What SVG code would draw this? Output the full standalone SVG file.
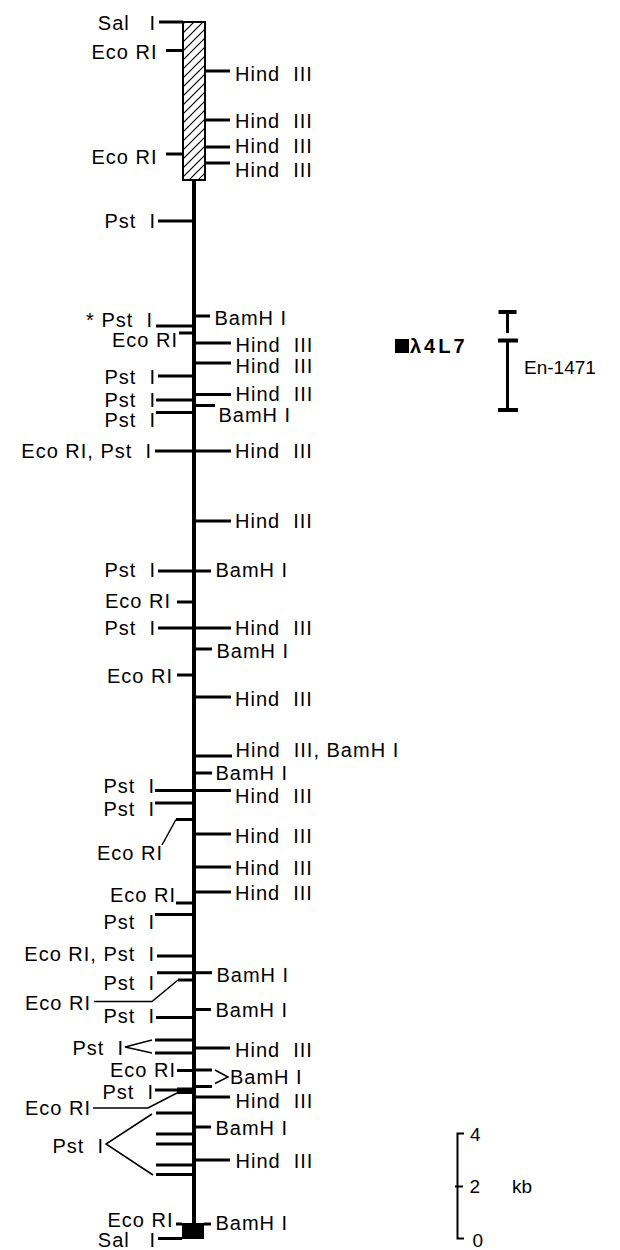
<svg xmlns="http://www.w3.org/2000/svg" width="620" height="1250" viewBox="0 0 620 1250">
<defs>
<pattern id="hatch" patternUnits="userSpaceOnUse" width="9" height="9">
<path d="M-1,1 L1,-1 M0,9 L9,0 M8,10 L10,8" stroke="#000" stroke-width="1.2"/>
</pattern>
<style>
.t{font-family:"Liberation Sans",Arial,sans-serif;font-size:20px;fill:#000;letter-spacing:1px;white-space:pre}
.e{text-anchor:end}
.k{stroke:#000;stroke-width:3;fill:none}
.l{stroke:#000;stroke-width:1.5;fill:none}
.m{stroke:#000;stroke-width:4;fill:none}
.s{stroke:#000;stroke-width:2;fill:none}
.n{font-family:"Liberation Sans",Arial,sans-serif;font-size:19px;fill:#000}
</style>
</defs>
<rect width="620" height="1250" fill="#fff"/>
<g id="connectors">
<path class="m" d="M194 180V1223"/>
<path class="l" d="M176 819.5L162 845"/>
<path class="l" d="M178 980L152 1001.5H94"/>
<path class="l" d="M152 1040L125 1047L152 1053"/>
<path class="l" d="M215 1070L228 1077L215 1083.5"/>
<path class="l" d="M177 1093L148 1108H93"/>
<path class="l" d="M152 1114L106 1144L153 1175"/>
</g>
<g id="insert-box"><rect x="183" y="22" width="22" height="158" fill="url(#hatch)" stroke="#000" stroke-width="2"/></g>
<g id="end-box"><rect x="182" y="1223" width="22" height="16" fill="#000"/></g>
<g id="sal-top"><path class="k" d="M159 22H183"/><text class="t e" x="156" y="30" xml:space="preserve">Sal   I</text></g>
<g id="eco-1"><path class="k" d="M166 50.5H183"/><text class="t e" x="157.5" y="59">Eco RI</text></g>
<g id="hind-1"><path class="k" d="M205 71H230"/><text class="t" x="235" y="81" xml:space="preserve">Hind  III</text></g>
<g id="hind-2"><path class="k" d="M205 120H230"/><text class="t" x="235" y="128" xml:space="preserve">Hind  III</text></g>
<g id="hind-3"><path class="k" d="M205 147H230"/><text class="t" x="235" y="153" xml:space="preserve">Hind  III</text></g>
<g id="hind-4"><path class="k" d="M205 163H230"/><text class="t" x="235" y="177" xml:space="preserve">Hind  III</text></g>
<g id="eco-2"><path class="k" d="M166 154H183"/><text class="t e" x="157.5" y="164">Eco RI</text></g>
<g id="pst-1"><path class="k" d="M158 221H194"/><text class="t e" x="156" y="228" xml:space="preserve">Pst  I</text></g>
<g id="bam-1"><path class="k" d="M194 316H210"/><text class="t" x="214.5" y="325">BamH I</text></g>
<g id="pst-2"><path class="k" d="M156 326H194"/><text class="t e" x="153" y="327" xml:space="preserve">* Pst  I</text></g>
<g id="eco-3"><path class="k" d="M179 333H194"/><text class="t e" x="178" y="346.5">Eco RI</text></g>
<g id="hind-5"><path class="k" d="M194 343H231"/><text class="t" x="235.5" y="352" xml:space="preserve">Hind  III</text></g>
<g id="hind-6"><path class="k" d="M194 363H231"/><text class="t" x="235.5" y="373" xml:space="preserve">Hind  III</text></g>
<g id="pst-3"><path class="k" d="M158 376H194"/><text class="t e" x="156" y="384" xml:space="preserve">Pst  I</text></g>
<g id="hind-7"><path class="k" d="M194 394.5H231"/><text class="t" x="235.5" y="401" xml:space="preserve">Hind  III</text></g>
<g id="pst-4"><path class="k" d="M156 400H194"/><text class="t e" x="156" y="407" xml:space="preserve">Pst  I</text></g>
<g id="bam-2"><path class="k" d="M194 405.5H215"/><text class="t" x="218.5" y="421.5">BamH I</text></g>
<g id="pst-5"><path class="k" d="M156 412.5H194"/><text class="t e" x="156" y="427" xml:space="preserve">Pst  I</text></g>
<g id="ecopst-1"><path class="k" d="M155 451H194"/><text class="t e" x="152" y="458" xml:space="preserve">Eco RI, Pst  I</text></g>
<g id="hind-8"><path class="k" d="M194 451H231"/><text class="t" x="235" y="458" xml:space="preserve">Hind  III</text></g>
<g id="hind-9"><path class="k" d="M194 521H231"/><text class="t" x="235" y="528" xml:space="preserve">Hind  III</text></g>
<g id="pst-6"><path class="k" d="M158 571H194"/><text class="t e" x="156" y="577" xml:space="preserve">Pst  I</text></g>
<g id="bam-3"><path class="k" d="M194 571H211"/><text class="t" x="215.5" y="577">BamH I</text></g>
<g id="eco-4"><path class="k" d="M177 602H194"/><text class="t e" x="171" y="608">Eco RI</text></g>
<g id="pst-7"><path class="k" d="M158 628H194"/><text class="t e" x="156" y="635" xml:space="preserve">Pst  I</text></g>
<g id="hind-10"><path class="k" d="M194 628H231"/><text class="t" x="235" y="635" xml:space="preserve">Hind  III</text></g>
<g id="bam-4"><path class="k" d="M194 649H212"/><text class="t" x="216.5" y="658">BamH I</text></g>
<g id="eco-5"><path class="k" d="M177 675H194"/><text class="t e" x="173" y="683">Eco RI</text></g>
<g id="hind-11"><path class="k" d="M194 697H231"/><text class="t" x="235" y="706" xml:space="preserve">Hind  III</text></g>
<g id="hindbam-1"><path class="k" d="M194 756H232"/><text class="t" x="235.5" y="757" xml:space="preserve">Hind  III, BamH I</text></g>
<g id="bam-5"><path class="k" d="M194 773H212"/><text class="t" x="215.5" y="780">BamH I</text></g>
<g id="pst-8"><path class="k" d="M155 790.5H194"/><text class="t e" x="155" y="793" xml:space="preserve">Pst  I</text></g>
<g id="hind-12"><path class="k" d="M194 790.5H231"/><text class="t" x="235" y="803" xml:space="preserve">Hind  III</text></g>
<g id="pst-9"><path class="k" d="M155 803H194"/><text class="t e" x="155" y="816" xml:space="preserve">Pst  I</text></g>
<g id="eco-6"><path class="k" d="M194 819.5H176"/><text class="t e" x="163" y="860">Eco RI</text></g>
<g id="hind-13"><path class="k" d="M194 834H231"/><text class="t" x="235" y="843" xml:space="preserve">Hind  III</text></g>
<g id="hind-14"><path class="k" d="M194 867H231"/><text class="t" x="235" y="875" xml:space="preserve">Hind  III</text></g>
<g id="hind-15"><path class="k" d="M194 892H231"/><text class="t" x="235" y="900" xml:space="preserve">Hind  III</text></g>
<g id="eco-7"><path class="k" d="M176 903H194"/><text class="t e" x="176" y="902">Eco RI</text></g>
<g id="pst-10"><path class="k" d="M155 914.5H194"/><text class="t e" x="155" y="929" xml:space="preserve">Pst  I</text></g>
<g id="ecopst-2"><path class="k" d="M157 956H194"/><text class="t e" x="155" y="961" xml:space="preserve">Eco RI, Pst  I</text></g>
<g id="pst-11"><path class="k" d="M157 972.7H194"/><text class="t e" x="155" y="990" xml:space="preserve">Pst  I</text></g>
<g id="bam-6"><path class="k" d="M194 972.7H212"/><text class="t" x="216.5" y="982">BamH I</text></g>
<g id="eco-8"><path class="k" d="M194 980H178"/><text class="t e" x="91" y="1010">Eco RI</text></g>
<g id="bam-7"><path class="k" d="M194 1009.5H211"/><text class="t" x="215.5" y="1017">BamH I</text></g>
<g id="pst-12"><path class="k" d="M156 1017.5H194"/><text class="t e" x="155" y="1023" xml:space="preserve">Pst  I</text></g>
<g id="pst-13"><path class="k" d="M155 1040H194M155 1053H194"/><text class="t e" x="124" y="1055" xml:space="preserve">Pst  I</text></g>
<g id="hind-16"><path class="k" d="M194 1048H230"/><text class="t" x="235" y="1057" xml:space="preserve">Hind  III</text></g>
<g id="eco-9"><path class="k" d="M177 1070.5H194"/><text class="t e" x="176" y="1077">Eco RI</text></g>
<g id="bam-8"><path class="k" d="M194 1070H212M194 1086.5H212"/><text class="t" x="230" y="1084">BamH I</text></g>
<g id="pst-14"><path class="k" d="M155 1090H194"/><rect x="177" y="1087.5" width="17" height="6.5" fill="#000"/><text class="t e" x="154" y="1099" xml:space="preserve">Pst  I</text></g>
<g id="eco-10"><text class="t e" x="91" y="1115">Eco RI</text></g>
<g id="hind-17"><path class="k" d="M194 1097H230"/><text class="t" x="235.5" y="1108" xml:space="preserve">Hind  III</text></g>
<g id="pst-15"><path class="k" d="M156 1113H194M156 1134H194M156 1144H194M156 1165H194M156 1174.5H194"/><text class="t e" x="104" y="1153" xml:space="preserve">Pst  I</text></g>
<g id="bam-9"><path class="k" d="M194 1127H211"/><text class="t" x="215.5" y="1135">BamH I</text></g>
<g id="hind-18"><path class="k" d="M194 1160H230"/><text class="t" x="235.5" y="1168" xml:space="preserve">Hind  III</text></g>
<g id="eco-11"><path class="k" d="M176 1224H182"/><text class="t e" x="173.5" y="1227">Eco RI</text></g>
<g id="bam-10"><path class="k" d="M204 1224H211"/><text class="t" x="215.5" y="1230">BamH I</text></g>
<g id="sal-bottom"><path class="k" d="M158 1238.5H182"/><text class="t e" x="156" y="1247" xml:space="preserve">Sal   I</text></g>
<g id="lambda"><rect x="395" y="339" width="14" height="14" fill="#000"/><text x="410" y="353" font-family="Liberation Sans, Arial, sans-serif" font-size="20" font-weight="bold" letter-spacing="3">λ4L7</text></g>
<g id="en1471"><path stroke="#000" stroke-width="4" fill="none" d="M498.5 312H516.5M498 340.5H518M498 410H518"/><path class="k" d="M507.5 312V333M507.5 340V410"/><text class="n" x="524" y="374" font-size="19.5">En-1471</text></g>
<g id="scale"><path class="s" d="M464 1133.5H457.5V1238.5H464M455 1186.5H463"/><text class="n" x="470" y="1141" font-size="16">4</text><text class="n" x="469.5" y="1193">2</text><text class="n" x="472.5" y="1247">0</text><text class="n" x="512" y="1193">kb</text></g>
</svg>
